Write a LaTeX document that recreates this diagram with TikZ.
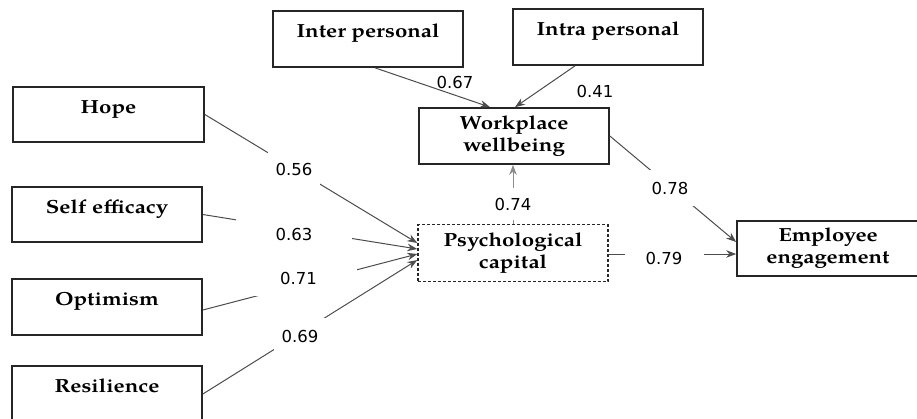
\documentclass[tikz,border=0pt]{standalone}
\usepackage{fontspec}
\newfontfamily\boxfont{texgyrepagella}[Extension=.otf, UprightFont=*-regular, BoldFont=*-bold, FakeStretch=1.17]
\newfontfamily\numfont{DejaVu Sans}
\usetikzlibrary{arrows.meta}
\begin{document}
\begin{tikzpicture}[x=1pt,y=-1pt,
  box/.style={draw=black!85, line width=1.7pt, minimum width=190pt, minimum height=56pt, inner sep=0pt,
    font=\boxfont\bfseries\fontsize{19}{22}\selectfont, align=center},
  onebox/.style={box, text height=11pt, text depth=14pt},
  conn/.style={draw=black!70, line width=1pt, -{Stealth[length=10pt,width=7.5pt]}},
  wt/.style={fill=white, inner sep=0pt, font=\numfont\fontsize{16.5}{18}\selectfont},
  nt/.style={inner sep=1pt, font=\numfont\fontsize{16.5}{18}\selectfont}]
\useasboundingbox (0,0) rectangle (917,418);
% boxes
\node[onebox, minimum width=191pt, minimum height=55pt] (hope) at (108.5,114.5) {Hope};
\node[onebox, minimum height=55pt] (self) at (107,214.5) {Self efficacy};
\node[onebox] (opt) at (107,307) {Optimism};
\node[onebox] (res) at (107,394) {Resilience};
\node[onebox] (inter) at (368,39) {Inter personal};
\node[onebox] (intra) at (608,37) {Intra personal};
\node[box] (wb) at (514,136) {Workplace\\wellbeing};
\node[box, dashed, dash pattern=on 3pt off 2pt, line width=1.4pt, minimum height=57pt] (psy) at (513,253) {Psychological\\capital};
\node[box, minimum width=182pt, minimum height=55pt] (emp) at (828,248.5) {Employee\\engagement};
% connectors
\draw[conn] (hope.east) -- ([yshift=10pt]psy.west);
\draw[conn] (self.east) -- ([yshift=4pt]psy.west);
\draw[conn] ([yshift=-3pt]opt.east) -- ([yshift=-1pt]psy.west);
\draw[conn] (res.east) -- ([yshift=-7pt]psy.west);
\draw[conn] ([xshift=7pt]inter.south) -- ([xshift=-24pt]wb.north);
\draw[conn] ([xshift=-33pt]intra.south) -- ([xshift=1pt]wb.north);
\draw[conn, draw=black!45] (psy.north) -- (psy.north |- wb.south);
\draw[conn] (wb.east) -- ([yshift=6.5pt]emp.west);
\draw[conn] ([yshift=-1pt]psy.east) -- ([yshift=-1pt]psy.east -| emp.west);
% labels
\node[wt, minimum width=52pt, minimum height=36pt] (l56) at (294,169) {0.56};
\node[wt, minimum width=116pt, minimum height=32pt] (l63) at (294,234) {0.63};
\node[wt, minimum width=117pt, minimum height=36pt] (l71) at (298.5,278) {0.71};
\node[wt, minimum width=52pt, minimum height=36pt] (l69) at (300,336) {0.69};
\node[nt] (l67) at (455,82) {0.67};
\node[nt] (l41) at (595,91) {0.41};
\node[wt, minimum width=52pt, minimum height=36pt] (l78) at (670,188) {0.78};
\node[wt, minimum width=50pt, minimum height=32pt] (l74) at (513,204) {0.74};
\node[wt, minimum width=79pt, minimum height=20pt] (l79) at (664,258) {0.79};
\end{tikzpicture}
\end{document}
